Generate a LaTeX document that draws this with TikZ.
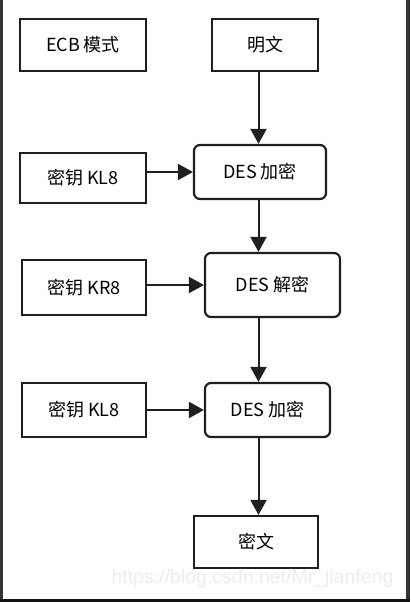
\documentclass[tikz,border=0pt]{standalone}
\usepackage{fontspec}
\setmainfont{Noto Sans CJK SC}
\newfontfamily\markfont{Liberation Sans}
\usepackage{tikz}
\usetikzlibrary{arrows.meta,positioning,calc}

\begin{document}
\begin{tikzpicture}[x=1pt, y=-1pt,
    box/.style={draw=black!88, line width=2.2pt, minimum height=52pt, inner sep=0pt, font=\fontsize{18}{21}\selectfont},
    rbox/.style={box, rounded corners=6pt},
    arr/.style={line width=2pt, draw=black!88, -{Triangle[length=15pt, width=16pt]}}]
    \useasboundingbox (0, 0) rectangle (410, 602);
    \fill [white] (0, 0) rectangle (410, 602);

    % frame
    \fill [black!80] (0, 0) rectangle (3, 602);
    \fill [black!80] (406, 0) rectangle (410, 602);
    \fill [black!93] (0, 599) rectangle (410, 602);

    % top row
    \node [box, minimum width=126pt] (ecb) at (83, 45) {ECB 模式};
    \node [box, minimum width=106pt] (plain) at (265, 45) {明文};

    % keys
    \node [box, minimum width=126pt, minimum height=50pt] (keyA) at (83, 178) {密钥 KL8};
    \node [box, minimum width=124pt, minimum height=55pt] (keyB) at (84, 287.5) {密钥 KR8};
    \node [box, minimum width=124pt, minimum height=54pt] (keyC) at (84, 410) {密钥 KL8};

    % DES stages
    \node [rbox, minimum width=132pt, minimum height=54pt] (encA) at (260, 172) {DES 加密};
    \node [rbox, minimum width=135pt, minimum height=64pt] (dec) at (272.5, 285) {DES 解密};
    \node [rbox, minimum width=125pt, minimum height=54pt] (encB) at (267.5, 410) {DES 加密};

    % output
    \node [box, minimum width=124pt] (cipher) at (256, 542) {密文};

    % main line
    \coordinate (spine) at (258.5, 0);
    \draw [arr] (plain.south -| spine) -- (encA.north -| spine);
    \draw [arr] (encA.south -| spine) -- (dec.north -| spine);
    \draw [arr] (dec.south -| spine) -- (encB.north -| spine);
    \draw [arr] (encB.south -| spine) -- (cipher.north -| spine);

    % key inputs
    \draw [arr] (keyA.east |- encA.west) -- (encA.west);
    \draw [arr] (keyB.east |- dec.west) -- (dec.west);
    \draw [arr] (keyC.east |- encB.west) -- (encB.west);

    % watermark
    \node [text=black!7, font=\markfont\fontsize{19.5}{22}\selectfont, anchor=east] (mark) at (397, 578) {https://blog.csdn.net/Mr\_jianfeng};
\end{tikzpicture}
\end{document}
